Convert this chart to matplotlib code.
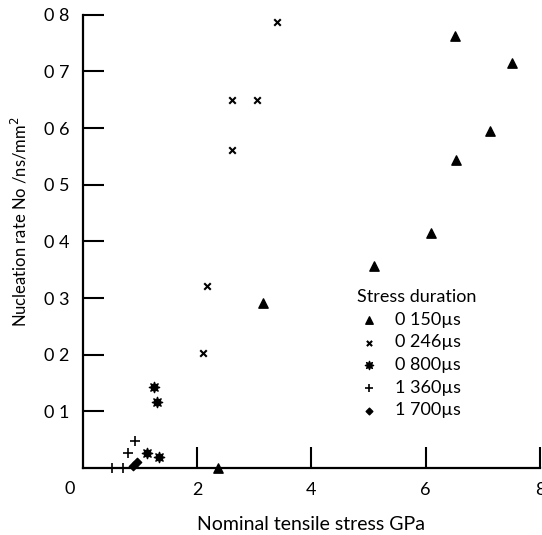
import matplotlib
matplotlib.use('Agg')
import matplotlib.pyplot as plt

plt.rcParams['font.family'] = ['Lato', 'DejaVu Sans']

# stress duration 0.150 us
x_150 = [2.37, 3.16, 5.10, 6.09, 6.53, 7.12, 6.51, 7.51]
y_150 = [0.0, 0.291, 0.356, 0.414, 0.543, 0.594, 0.762, 0.714]
# 0.246 us
x_246 = [2.10, 2.18, 2.61, 2.61, 3.04, 3.40]
y_246 = [0.203, 0.321, 0.561, 0.649, 0.649, 0.788]
# 0.800 us
x_800 = [1.25, 1.30, 1.12, 1.33]
y_800 = [0.143, 0.116, 0.026, 0.019]
# 1.360 us
x_1360 = [0.51, 0.70, 0.79, 0.91]
y_1360 = [0.0, 0.0, 0.026, 0.048]
# 1.700 us
x_1700 = [0.87, 0.95]
y_1700 = [0.004, 0.010]

labels = ['0 150\u00b5s', '0 246\u00b5s', '0 800\u00b5s', '1 360\u00b5s', '1 700\u00b5s']
yticks = [0.1, 0.2, 0.3, 0.4, 0.5, 0.6, 0.7, 0.8]
ytick_labels = ['0 1', '0 2', '0 3', '0 4', '0 5', '0 6', '0 7', '0 8']
xticks = [2, 4, 6, 8]
xtick_labels = ['2', '4', '6', '8']

fig = plt.figure(figsize=(5.42, 5.35), dpi=100)
ax = fig.add_axes([0.153, 0.125, 0.843, 0.8475])

ax.scatter(x_150, y_150, marker='^', s=45, color='black', label=labels[0], clip_on=False, zorder=3)
ax.scatter(x_246, y_246, marker='x', s=22, color='black', linewidths=1.5, label=labels[1], clip_on=False, zorder=3)
ax.scatter(x_800, y_800, marker=(8, 1, 0), s=55, color='black', label=labels[2], clip_on=False, zorder=3)
ax.scatter(x_1360, y_1360, marker='+', s=55, color='black', linewidths=1.2, label=labels[3], clip_on=False, zorder=3)
ax.scatter(x_1700, y_1700, marker='D', s=18, color='black', label=labels[4], clip_on=False, zorder=3)

ax.set_xlim(0, 8)
ax.set_ylim(0, 0.8)
ax.spines['top'].set_visible(False)
ax.spines['right'].set_visible(False)
ax.spines['left'].set_linewidth(1.6)
ax.spines['bottom'].set_linewidth(1.6)

ax.set_yticks(yticks)
ax.set_yticklabels(ytick_labels, fontsize=13)
ax.set_xticks(xticks)
ax.set_xticklabels(xtick_labels, fontsize=13)
ax.tick_params(direction='in', length=15, width=1.5, pad=10)
ax.text(-0.03, -0.045, '0', transform=ax.transAxes, fontsize=13, ha='center', va='center')

ax.set_xlabel('Nominal tensile stress GPa', fontsize=14)
ax.xaxis.set_label_coords(0.5, -0.105)
ax.set_ylabel('Nucleation rate No /ns/mm$^2$', fontsize=12)
ax.yaxis.set_label_coords(-0.116, 0.543)

leg = ax.legend(title='Stress duration', frameon=False, fontsize=13, title_fontsize=13,
                loc='upper left', bbox_to_anchor=(0.58, 0.415), alignment='left',
                labelspacing=0.37, handlelength=1.3, handletextpad=0.8,
                borderpad=0.0, markerscale=0.8)

plt.savefig('out.png', dpi=100)
